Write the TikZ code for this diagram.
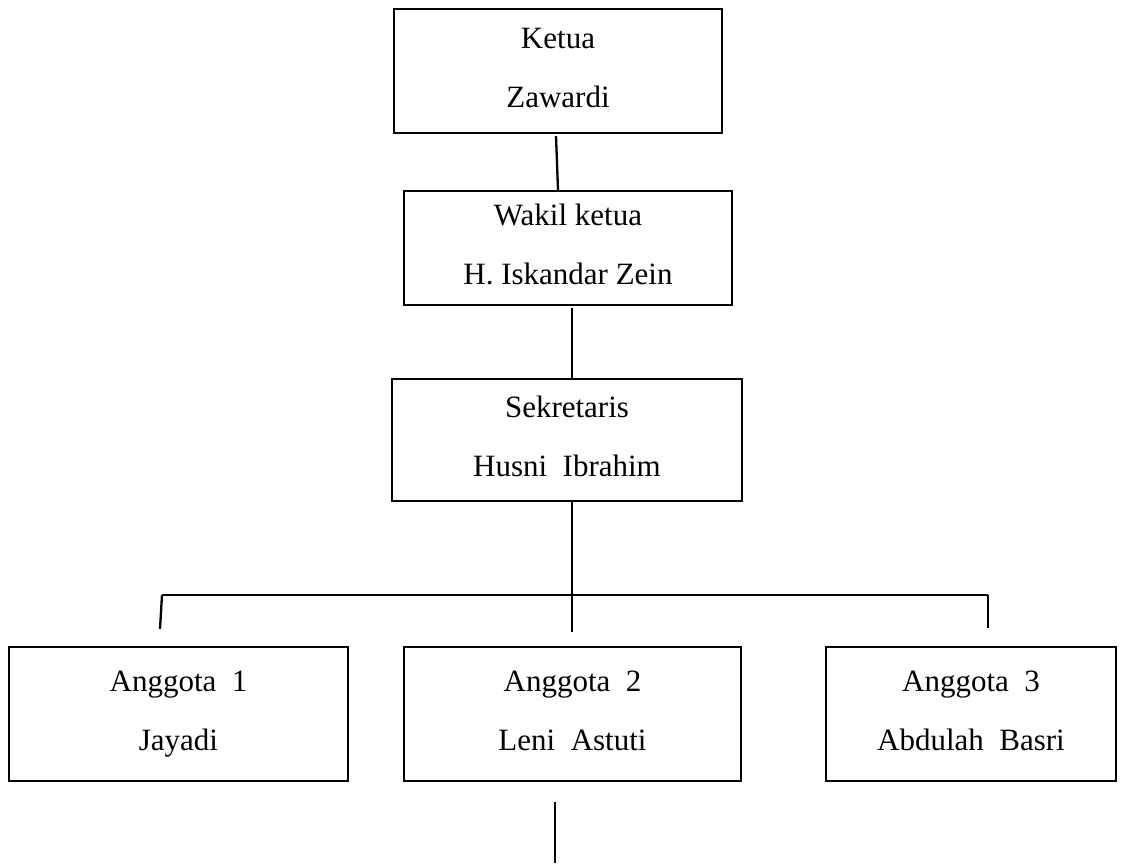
\documentclass[tikz,border=0pt]{standalone}
\usepackage{fontspec}
\setmainfont{Liberation Serif}
\begin{document}
\begin{tikzpicture}[x=1pt,y=-1pt,
    kotak/.style={draw,line width=2.3pt,inner sep=0pt,align=center,
        text depth=7pt,font=\fontsize{31}{59}\selectfont},
    garis/.style={line width=2.3pt}]
            \useasboundingbox (0,0) rectangle (1126,863);
            \node[kotak,minimum width=328,minimum height=124] (ketua) at (558,71) {Ketua\\Zawardi};
            \node[kotak,minimum width=328,minimum height=114] (wakil) at (568,248) {Wakil ketua\\H. Iskandar Zein};
            \node[kotak,minimum width=350,minimum height=122] (sekretaris) at (567,440) {Sekretaris\\Husni\ \ Ibrahim};
            \node[kotak,minimum width=339,minimum height=134] (anggota1) at (178.5,714) {Anggota\ \ 1\\Jayadi};
            \node[kotak,minimum width=337,minimum height=134] (anggota2) at (572.5,714) {Anggota\ \ 2\\Leni\ \ Astuti};
            \node[kotak,minimum width=290,minimum height=134] (anggota3) at (971,714) {Anggota\ \ 3\\Abdulah\ \ Basri};
            \coordinate (cabang) at (572,595);
            \coordinate (kiri) at (162,595);
            \coordinate (kanan) at (988,595);
            \coordinate (bawah) at (555,802);
            \coordinate (ujung) at (555,863);
            \draw[garis] ([xshift=-2,yshift=-2]ketua.south) -- ([xshift=-10]wakil.north);
            \draw[garis] ([xshift=4,yshift=-2]wakil.south) -- ([xshift=5]sekretaris.north);
            \draw[garis] ([xshift=5]sekretaris.south) -- (cabang);
            \draw[garis] (kiri) -- (kanan);
            \draw[garis] (kiri) -- ([xshift=-18.5,yshift=17]anggota1.north);
            \draw[garis] (cabang) -- ([xshift=-0.5,yshift=14]anggota2.north);
            \draw[garis] (kanan) -- ([xshift=17,yshift=18]anggota3.north);
            \draw[garis] (bawah) -- (ujung);
        \end{tikzpicture}
\end{document}
